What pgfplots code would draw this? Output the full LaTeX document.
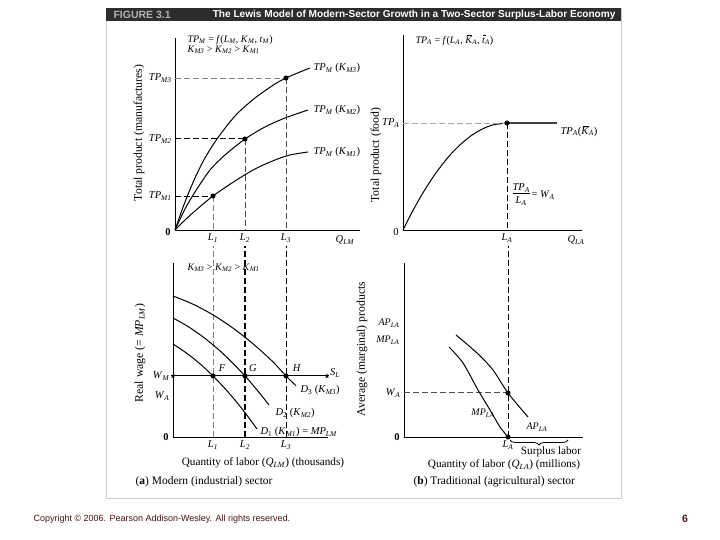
\documentclass[border=0pt]{standalone}
\usepackage{fontspec}
\setmainfont{Liberation Serif}
\newfontfamily\hdr{Liberation Sans}
\usepackage{pgfplots}
\pgfplotsset{compat=1.18}
\usetikzlibrary{decorations.pathreplacing}
\newcommand{\sv}[2]{\textit{#1}\textsubscript{\textit{#2}}}
\newcommand{\Kbar}{\rlap{\kern0.2em\raisebox{0.78em}{\rule{0.5em}{0.4pt}}}\textit{K}}
\newcommand{\tbar}{\rlap{\kern0.1em\raisebox{0.72em}{\rule{0.3em}{0.4pt}}}\textit{t}}
\newcommand{\fs}[1]{\fontsize{#1}{#1}\selectfont}
\definecolor{hdrbg}{RGB}{45,45,45}
\definecolor{foot}{RGB}{70,20,20}
\definecolor{frm}{RGB}{205,205,205}
\pgfplotsset{panel/.style={scale only axis, anchor=origin,
  axis x line*=bottom, axis y line*=left, xmin=0, ymin=0, clip=false,
  major tick length=0pt, axis line style={line width=0.9pt},
  tick label style={font=\fs{10.5}},
  every axis plot/.append style={line width=1pt}}}
\tikzset{lbl/.style={font=\fs{10.5}}, sm/.style={font=\fs{10}},
  yl/.style={rotate=90, font=\fs{11.7}}, xl/.style={font=\fs{11.2}},
  dsh/.style={dash pattern=on 6pt off 3pt}}
\begin{document}
\begin{tikzpicture}
\useasboundingbox (0,0) rectangle (720pt,540pt);
% frame and header
\draw[frm, line width=0.8pt] (106pt,42pt) rectangle (621pt,532pt);
\fill[hdrbg] (106pt,519pt) rectangle (621pt,532pt);
\node[anchor=west, text=black!30, font=\hdr\bfseries\fs{10.5}] at (110pt,525.5pt) {FIGURE 3.1};
\node[anchor=east, text=white, font=\hdr\bfseries\fs{10.1}] at (619pt,525.5pt) {The Lewis Model of Modern-Sector Growth in a Two-Sector Surplus-Labor Economy};
% footer
\node[anchor=west, text=foot, font=\hdr\fs{9}] at (30pt,21pt) {Copyright © 2006. Pearson Addison-Wesley. All rights reserved.};
\node[text=foot, font=\hdr\bfseries\fs{10.5}] at (685pt,21pt) {6};

% (a) top: total product, manufactures
\begin{axis}[panel, at={(175pt,310pt)}, width=185pt, height=192pt, xmax=185, ymax=192,
  xtick={38,70,111}, xticklabels={\sv{L}{1},\sv{L}{2},\sv{L}{3}},
  ytick={34,91,152}, yticklabels={\sv{TP}{M1},\sv{TP}{M2},\sv{TP}{M3}}]
\addplot[smooth] coordinates {(0,0) (10,28) (20,52) (30,72) (42,91) (60,114) (80,132) (100,146) (111,152) (125,158) (135,162)};
\addplot[smooth] coordinates {(0,0) (10,21) (20,38) (35,60) (50,75) (70,91) (90,103) (110,112) (133,120)};
\addplot[smooth] coordinates {(0,0) (10,10) (20,19) (38,34) (60,49) (80,61) (100,70) (115,75) (133,78)};
\addplot[dsh, line width=0.8pt] coordinates {(0,34) (38,34)};
\addplot[dsh, gray, line width=0.5pt] coordinates {(38,34) (38,0)};
\addplot[dsh, line width=1pt] coordinates {(0,91) (70,91)};
\addplot[dsh, black!70, line width=0.7pt] coordinates {(70,91) (70,0)};
\addplot[dsh, gray, line width=0.5pt] coordinates {(0,152) (111,152)};
\addplot[dsh, black!70, line width=0.7pt] coordinates {(111,152) (111,0)};
\addplot[only marks, mark=*, mark size=2pt] coordinates {(38,34) (70,91) (111,152)};
\node[anchor=west, sm] at (axis cs:9,190) {\sv{TP}{M} = \textit{f}(\sv{L}{M}, \sv{K}{M}, \sv{t}{M})};
\node[anchor=west, sm] at (axis cs:9,180) {\sv{K}{M3} > \sv{K}{M2} > \sv{K}{M1}};
\node[anchor=west, lbl] at (axis cs:135,162) {\sv{TP}{M} (\sv{K}{M3})};
\node[anchor=west, lbl] at (axis cs:135,120) {\sv{TP}{M} (\sv{K}{M2})};
\node[anchor=west, lbl] at (axis cs:135,78) {\sv{TP}{M} (\sv{K}{M1})};
\node[lbl] at (axis cs:170,-10) {\sv{Q}{LM}};
\node[lbl] at (axis cs:-7,-2) {\textbf{0}};
\node[yl] at (axis cs:-36,97) {Total product (manufactures)};
\end{axis}

% (b) top: total product, food
\begin{axis}[panel, at={(403pt,310pt)}, width=179pt, height=195pt, xmax=179, ymax=195,
  xtick={104}, xticklabels={\sv{L}{A}}, ytick={107}, yticklabels={\sv{TP}{A}}]
\addplot[smooth] coordinates {(0,0) (10,19.6) (20,37.2) (30,52.8) (40,66.5) (50,78.2) (60,87.8) (70,95.6) (80,101.3) (90,105.1) (104,107)};
\addplot[line width=1.6pt, black!75] coordinates {(104,107) (154,107)};
\addplot[dsh, gray!70, line width=0.5pt] coordinates {(0,107) (104,107)};
\addplot[dsh, line width=0.9pt] coordinates {(104,107) (104,0)};
\addplot[only marks, mark=*, mark size=2pt] coordinates {(104,107)};
\node[anchor=west, sm] at (axis cs:9,190) {\sv{TP}{A} = \textit{f}(\sv{L}{A}, \Kbar\textsubscript{\textit{A}}, \tbar\textsubscript{\textit{A}})};
\node[anchor=west, lbl] at (axis cs:154,99) {\sv{TP}{A}(\Kbar\textsubscript{\textit{A}})};
\node[lbl] at (axis cs:173,-10) {\sv{Q}{LA}};
\node[lbl] at (axis cs:-7,-2) {0};
\node[anchor=west, lbl] at (axis cs:106,35) {\begin{tabular}[c]{@{}c@{}}\sv{TP}{A}\\[-1pt]\hline\rule{0pt}{10.5pt}\sv{L}{A}\end{tabular}\,= \sv{W}{A}};
\node[yl] at (axis cs:-27,75) {Total product (food)};
\end{axis}

% (a) bottom: modern sector labour market
\begin{axis}[panel, at={(173pt,103pt)}, width=155pt, height=174pt, xmax=155, ymax=174,
  xtick={40,72,113}, xticklabels={\sv{L}{1},\sv{L}{2},\sv{L}{3}},
  ytick={41,61}, yticklabels={\sv{W}{A},\sv{W}{M}}]
\addplot[dsh, gray, line width=0.5pt] coordinates {(40,0) (40,191)};
\addplot[dsh, line width=1.1pt] coordinates {(72,0) (72,191)};
\addplot[dsh, line width=0.8pt] coordinates {(113,0) (113,191)};
\addplot coordinates {(0,61) (154,61)};
\addplot[smooth] coordinates {(0,141) (20,132.8) (40,122.1) (60,108.9) (80,93.2) (100,75.1) (113,61) (123,51.3)};
\addplot[smooth] coordinates {(0,119) (15,110.5) (30,100.1) (45,87.9) (60,73.7) (72,61) (84,47.1) (96,32)};
\addplot[smooth] coordinates {(0,93) (10,86.4) (20,79) (30,70.5) (40,61) (52,48.4) (64,34.5) (74,21.7) (84,8)};
\addplot[only marks, mark=*, mark size=2pt] coordinates {(40,61) (72,61) (113,61)};
\node[lbl] at (axis cs:49,69) {\textit{F}};
\node[lbl] at (axis cs:80,69) {\textit{G}};
\node[lbl] at (axis cs:124,69) {\textit{H}};
\node[lbl] at (axis cs:162,64) {\sv{S}{L}};
\node[anchor=west, lbl] at (axis cs:124,47) {\textit{D}\textsubscript{3} (\sv{K}{M3})};
\node[anchor=west, lbl] at (axis cs:99,24) {\textit{D}\textsubscript{2} (\sv{K}{M2})};
\node[anchor=west, lbl] at (axis cs:84,5) {\textit{D}\textsubscript{1} (\sv{K}{M1}) = \sv{MP}{LM}};
\node[anchor=west, sm] at (axis cs:11,169) {\sv{K}{M3} > \sv{K}{M2} > \sv{K}{M1}};
\node[lbl] at (axis cs:-7,0) {\textbf{0}};
\node[xl] at (axis cs:90,-26) {Quantity of labor (\sv{Q}{LM}) (thousands)};
\node[anchor=west, font=\fs{11.5}] at (axis cs:-41,-45) {(\textbf{a}) Modern (industrial) sector};
\node[yl] at (axis cs:-33,84) {Real wage (= \sv{MP}{LM})};
\end{axis}

% (b) bottom: traditional sector
\begin{axis}[panel, at={(404pt,103pt)}, width=179pt, height=174pt, xmax=179, ymax=174,
  xtick={104}, xticklabels={\sv{L}{A}}, ytick={44}, yticklabels={\sv{W}{A}}]
\addplot[dsh, line width=1pt] coordinates {(104,0) (104,191)};
\addplot[dsh, black!70, line width=1pt] coordinates {(0,44) (104,44)};
\addplot[smooth] coordinates {(45,90) (59,74) (74,47) (86,27) (96,10) (104,0)};
\addplot[smooth] coordinates {(52,102) (73,84) (89,67) (104,44) (124,20)};
\addplot[only marks, mark=*, mark size=2pt] coordinates {(104,44) (104,0)};
\node[anchor=east, sm] at (axis cs:-1,114) {\sv{AP}{LA}};
\node[anchor=east, sm] at (axis cs:-1,97) {\sv{MP}{LA}};
\node[lbl] at (axis cs:-7,0) {\textbf{0}};
\node[sm] at (axis cs:79,24) {\sv{MP}{LA}};
\node[sm] at (axis cs:133,10) {\sv{AP}{LA}};
\draw[decorate, decoration={brace, mirror, amplitude=5pt}, line width=0.8pt] (axis cs:106,-3) -- (axis cs:164,-3);
\node[xl] at (axis cs:147,-15) {Surplus labor};
\node[xl] at (axis cs:100,-28) {Quantity of labor (\sv{Q}{LA}) (millions)};
\node[anchor=west, font=\fs{11.5}] at (axis cs:6,-45) {(\textbf{b}) Traditional (agricultural) sector};
\node[yl] at (axis cs:-42,88) {Average (marginal) products};
\end{axis}
\end{tikzpicture}
\end{document}
